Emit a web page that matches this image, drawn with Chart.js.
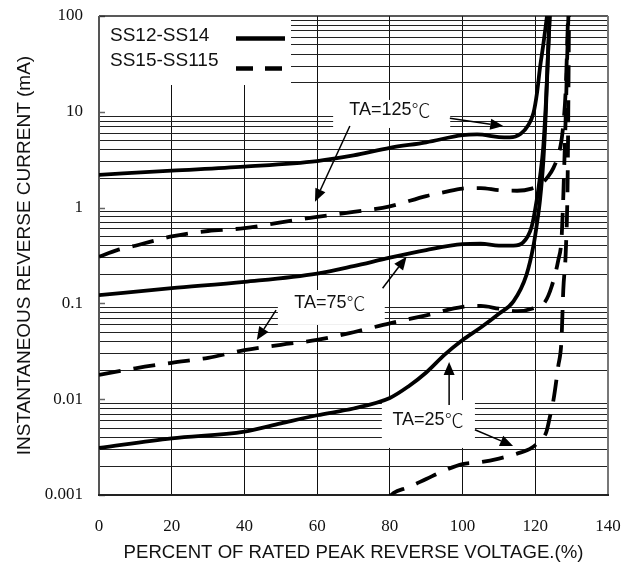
<!DOCTYPE html>
<html><head><meta charset="utf-8">
<script src="https://cdn.jsdelivr.net/npm/chart.js@4.4.0/dist/chart.umd.min.js"></script>
<style>html,body{margin:0;padding:0;background:#fff;}#wrap{width:636px;height:564px;position:relative;}</style>
</head><body><div id="wrap"><canvas id="c"></canvas></div>
<script>
// ---- axis ticks ----
const xTickValues = [0, 20, 40, 60, 80, 100, 120, 140];
const yTickLabels = ['0.001', '0.01', '0.1', '1', '10', '100'];
const legendNames = ['SS12-SS14', 'SS15-SS115'];

// ---- SS12-SS14 (solid) ----
const xSolid125 = [0, 20, 40, 60, 70, 80, 90, 100, 104, 110, 113, 116, 118, 119.5, 120.5, 121.3, 122.2, 122.9, 123.6];
const ySolid125 = [2.2, 2.43, 2.68, 3.06, 3.5, 4.2, 4.8, 5.7, 5.8, 5.45, 5.4, 5.9, 7.2, 9.7, 16, 29, 50, 80, 130];
const xSolid75 = [0, 20, 40, 60, 70, 80, 90, 100, 105, 110, 114, 116.6, 119, 120.4, 121.3, 122.2, 122.9, 123.5, 124.1];
const ySolid75 = [0.122, 0.144, 0.168, 0.205, 0.245, 0.3, 0.36, 0.415, 0.42, 0.4, 0.4, 0.43, 0.63, 1.2, 2.1, 4.3, 12, 40, 130];
const xSolid25 = [0, 20, 40, 50, 60, 70, 80, 85, 90, 95, 100, 105, 110, 114, 117.6, 119.5, 120.5, 121.3, 122.2, 122.9, 123.5, 124.1];
const ySolid25 = [0.0031, 0.0039, 0.0046, 0.0056, 0.0068, 0.008, 0.0103, 0.0135, 0.019, 0.029, 0.0415, 0.056, 0.078, 0.105, 0.2, 0.4, 0.7, 1.2, 3, 10, 40, 130];

// ---- SS15-SS115 (dashed) ----
const xDash125 = [0, 5, 10, 15, 20, 25, 30, 40, 50, 60, 70, 80, 90, 95, 100, 105, 110, 115, 119, 121.5, 123.5, 125, 126.3, 127.2, 127.8, 128.3, 128.7, 129.1];
const yDash125 = [0.307, 0.36, 0.4, 0.45, 0.5, 0.54, 0.57, 0.61, 0.7, 0.8, 0.9, 1.03, 1.32, 1.45, 1.58, 1.6, 1.52, 1.5, 1.58, 1.75, 2.1, 2.6, 3.5, 5, 8, 15, 40, 130];
const xDash75 = [0, 10, 20, 30, 40, 50, 60, 70, 80, 90, 100, 105, 110, 115, 119.5, 122.7, 124.5, 126.3, 127.2, 127.6, 128, 128.4, 128.8, 129.2];
const yDash75 = [0.0179, 0.021, 0.024, 0.027, 0.0325, 0.037, 0.0415, 0.05, 0.062, 0.075, 0.092, 0.094, 0.088, 0.083, 0.089, 0.104, 0.15, 0.28, 0.46, 1, 3, 10, 40, 130];
const xDash25 = [79, 81, 85, 90, 95, 100, 105, 110, 115, 119, 121.3, 123, 124, 125, 126.3, 127.2, 127.7, 128.4, 128.9, 129.3];
const yDash25 = [0.00088, 0.00105, 0.0012, 0.00147, 0.0018, 0.0021, 0.0022, 0.0024, 0.0027, 0.0031, 0.0037, 0.0045, 0.0065, 0.0098, 0.022, 0.041, 0.138, 0.36, 2, 130];

// ---- annotations (data units) ----
const tempLabels = ['TA=125', 'TA=75', 'TA=25'];
const degreeSign = '℃';
const labelCenterX = [80, 63.5, 90.5];
const labelCenterY = [10.4, 0.101, 0.00607];
const labelBoxX = [[64.4, 96.6], [49.2, 78.6], [77.8, 103.4]];
const labelBoxY = [[13.3, 6.78], [0.138, 0.0596], [0.0098, 0.0031]];
const arrowFrom = [[96.5, 8.55], [69, 7.1], [48.7, 0.085], [78.0, 0.144], [96.3, 0.0087], [103.4, 0.0048]];
const arrowTo = [[111.2, 7.1], [59.4, 1.15], [43.4, 0.0415], [84.6, 0.307], [96.3, 0.0244], [113.9, 0.00325]];

function pts(xs, ys) { return xs.map((x, i) => ({x: x, y: ys[i]})); }
const DASH = [22, 13];
function ds(label, xs, ys, dashed) {
  return {label: label, data: pts(xs, ys), borderColor: '#000', borderWidth: 3.8,
    borderDash: dashed ? DASH : [], pointRadius: 0, fill: false,
    cubicInterpolationMode: 'monotone'};
}
function isDecade(v) { const l = Math.log10(v); return Math.abs(l - Math.round(l)) < 1e-6; }
const SANS = '"Liberation Sans", Arial, "Noto Sans CJK SC", sans-serif';
const CJK = '"Noto Sans CJK SC", "Noto Sans CJK JP", sans-serif';
const SERIF = '"Liberation Serif", "Times New Roman", serif';

const decorPlugin = {
  id: 'decor',
  beforeDatasetsDraw(chart) {
    const {ctx, chartArea: a, scales: {x, y}} = chart;
    ctx.save();
    ctx.fillStyle = '#fff';
    // legend box
    ctx.fillRect(a.left, a.top, 192, 69);
    // label boxes
    for (let i = 0; i < tempLabels.length; i++) {
      const x1 = x.getPixelForValue(labelBoxX[i][0]), x2 = x.getPixelForValue(labelBoxX[i][1]);
      const y1 = y.getPixelForValue(labelBoxY[i][0]), y2 = y.getPixelForValue(labelBoxY[i][1]);
      ctx.fillRect(x1, y1, x2 - x1, y2 - y1);
    }
    // short ticks at decades
    ctx.strokeStyle = '#666'; ctx.lineWidth = 1.5;
    yTickLabels.forEach(t => {
      const py = Math.round(y.getPixelForValue(parseFloat(t))) + 0.5;
      ctx.beginPath(); ctx.moveTo(a.left, py); ctx.lineTo(a.left + 6, py); ctx.stroke();
    });
    // borders
    ctx.lineWidth = 1.5; ctx.strokeStyle = '#222';
    ctx.beginPath(); ctx.moveTo(a.left, a.top); ctx.lineTo(a.right, a.top); ctx.stroke();
    ctx.lineWidth = 2; ctx.strokeStyle = '#777';
    ctx.beginPath(); ctx.moveTo(a.right, a.top); ctx.lineTo(a.right, a.bottom); ctx.stroke();
    ctx.strokeStyle = '#555';
    ctx.beginPath(); ctx.moveTo(a.left, a.top); ctx.lineTo(a.left, a.bottom); ctx.stroke();
    ctx.strokeStyle = '#222';
    ctx.beginPath(); ctx.moveTo(a.left - 1, a.bottom); ctx.lineTo(a.right + 1, a.bottom); ctx.stroke();
    ctx.restore();
  },
  afterDatasetsDraw(chart) {
    const {ctx, chartArea: a, scales: {x, y}} = chart;
    ctx.save();
    // labels: "TA=xx" + thin ℃ sign
    ctx.fillStyle = '#111';
    ctx.textBaseline = 'middle'; ctx.textAlign = 'left';
    for (let i = 0; i < tempLabels.length; i++) {
      ctx.font = '18px ' + SANS;
      const w1 = ctx.measureText(tempLabels[i]).width;
      ctx.font = '300 19px ' + CJK;
      const w2 = ctx.measureText(degreeSign).width;
      const cx = x.getPixelForValue(labelCenterX[i]), cy = y.getPixelForValue(labelCenterY[i]);
      const sx = cx - (w1 + w2) / 2;
      ctx.font = '18px ' + SANS;
      ctx.fillText(tempLabels[i], sx, cy);
      ctx.font = '300 19px ' + CJK;
      ctx.fillText(degreeSign, sx + w1, cy + 0.5);
    }
    // arrows
    ctx.strokeStyle = '#000'; ctx.fillStyle = '#000'; ctx.lineWidth = 1.5;
    for (let i = 0; i < arrowFrom.length; i++) {
      const x1 = x.getPixelForValue(arrowFrom[i][0]), y1 = y.getPixelForValue(arrowFrom[i][1]);
      const x2 = x.getPixelForValue(arrowTo[i][0]), y2 = y.getPixelForValue(arrowTo[i][1]);
      const ang = Math.atan2(y2 - y1, x2 - x1), L = 13, W = 5.5;
      const bx = x2 - L * Math.cos(ang), by = y2 - L * Math.sin(ang);
      ctx.beginPath(); ctx.moveTo(x1, y1); ctx.lineTo(bx, by); ctx.stroke();
      ctx.beginPath(); ctx.moveTo(x2, y2);
      ctx.lineTo(bx + W * Math.sin(ang), by - W * Math.cos(ang));
      ctx.lineTo(bx - W * Math.sin(ang), by + W * Math.cos(ang));
      ctx.closePath(); ctx.fill();
    }
    // legend
    ctx.font = '19px ' + SANS;
    ctx.textAlign = 'left'; ctx.fillStyle = '#111';
    ctx.fillText(legendNames[0], a.left + 11, a.top + 19.5);
    ctx.fillText(legendNames[1], a.left + 11, a.top + 44.5);
    ctx.strokeStyle = '#000'; ctx.lineWidth = 4.5;
    ctx.beginPath(); ctx.moveTo(a.left + 137, a.top + 22.5); ctx.lineTo(a.left + 186, a.top + 22.5); ctx.stroke();
    ctx.setLineDash([17, 12]);
    ctx.beginPath(); ctx.moveTo(a.left + 137, a.top + 52.5); ctx.lineTo(a.left + 186, a.top + 52.5); ctx.stroke();
    ctx.restore();
  }
};

new Chart(document.getElementById('c'), {
  type: 'line',
  data: {datasets: [
    ds('SS12-SS14 125', xSolid125, ySolid125, false),
    ds('SS12-SS14 75', xSolid75, ySolid75, false),
    ds('SS12-SS14 25', xSolid25, ySolid25, false),
    ds('SS15-SS115 125', xDash125, yDash125, true),
    ds('SS15-SS115 75', xDash75, yDash75, true),
    ds('SS15-SS115 25', xDash25, yDash25, true)
  ]},
  options: {
    responsive: true, maintainAspectRatio: false, animation: false,
    layout: {padding: {top: 16, right: 28, left: 0, bottom: 0}},
    plugins: {legend: {display: false}, tooltip: {enabled: false}},
    scales: {
      x: {
        type: 'linear', min: 0, max: 140,
        afterBuildTicks: s => { s.ticks = xTickValues.map(v => ({value: v})); },
        ticks: {font: {family: SERIF, size: 17}, color: '#111', padding: 21, maxRotation: 0},
        grid: {color: c => (c.tick && (c.tick.value === 0 || c.tick.value === 140)) ? 'rgba(0,0,0,0)' : '#111', lineWidth: 1, drawTicks: false},
        border: {display: false},
        title: {display: true, text: 'PERCENT OF RATED PEAK REVERSE VOLTAGE.(%)', color: '#111',
          font: {family: SANS, size: 18.6}, padding: {top: 0, bottom: 0}},
        afterFit: s => { s.height = 69; s.paddingLeft = 0; s.paddingRight = 0; }
      },
      y: {
        type: 'logarithmic', min: 0.001, max: 100,
        afterBuildTicks: s => {
          s.ticks = s.ticks.filter(t => {
            const m = t.value / Math.pow(10, Math.floor(Math.log10(t.value) + 1e-9));
            return Math.abs(m - Math.round(m)) < 1e-6;
          });
        },
        ticks: {autoSkip: false, font: {family: SERIF, size: 17}, color: '#111', padding: 16,
          callback: v => isDecade(v) ? yTickLabels[Math.round(Math.log10(v)) + 3] : ''},
        grid: {color: c => (c.tick && isDecade(c.tick.value)) ? 'rgba(0,0,0,0)' : '#222', lineWidth: 1, drawTicks: false},
        border: {display: false},
        title: {display: true, text: 'INSTANTANEOUS REVERSE CURRENT (mA)', color: '#111',
          font: {family: SANS, size: 19}, padding: {top: 13, bottom: 0}},
        afterFit: s => { s.width = 99; s.paddingTop = 0; s.paddingBottom = 0; }
      }
    }
  },
  plugins: [decorPlugin]
});
</script></body></html>
